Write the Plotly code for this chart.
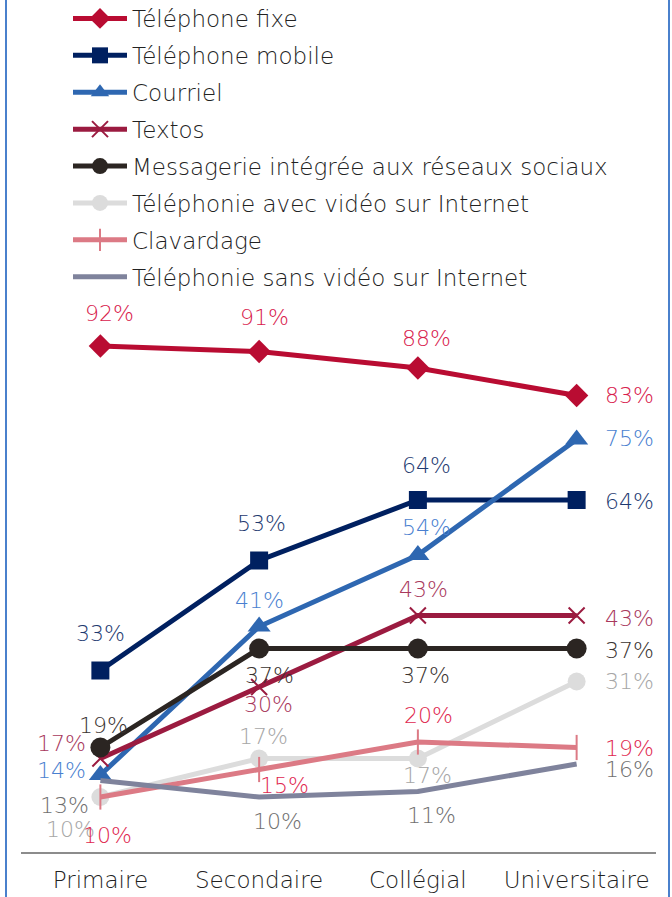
import plotly.graph_objects as go

categories = ["Primaire", "Secondaire", "Collégial", "Universitaire"]

series_names = [
    "Téléphone fixe",
    "Téléphone mobile",
    "Courriel",
    "Textos",
    "Messagerie intégrée aux réseaux sociaux",
    "Téléphonie avec vidéo sur Internet",
    "Clavardage",
    "Téléphonie sans vidéo sur Internet",
]

fixe = [92, 91, 88, 83]
mobile = [33, 53, 64, 64]
courriel = [14, 41, 54, 75]
textos = [17, 30, 43, 43]
messagerie = [19, 37, 37, 37]
avec_video = [10, 17, 17, 31]
clavardage = [10, 15, 20, 19]
sans_video = [13, 10, 11, 16]

values = [fixe, mobile, courriel, textos, messagerie, avec_video, clavardage, sans_video]

line_colors = ["#B90C32", "#002060", "#2E67B1", "#9B1B40", "#2B2522", "#DCDCDC", "#DC7A85", "#7F839C"]
label_colors = ["#D8204C", "#1E3A70", "#4A7FD0", "#A8385C", "#3A3330", "#A6A6A6", "#E0284F", "#6F6F6F"]
symbols = ["diamond", "square", "triangle-up", "x-thin-open", "circle", "circle", None, None]
msizes = [18, 18, 20, 16, 20, 18, 18, 0]

# label offsets (dx, dy in screen px from point); "R" = placed right of point
offsets = [
    [(9, -33), (5, -34), (9, -30), "R0"],
    [(0, -37), (2, -37), (9, -35), "R1"],
    [("L", -5), (0, -26), (9, -28), "R-1"],
    [("L", -15), (9, 17), (6, -26), "R3"],
    [(3, -22), (10, 27), (8, 27), "R2"],
    [(-30, 32), (4, -22), (10, 17), "R0"],
    [(7, 38), (25, 16), (11, -27), "R1"],
    [(-36, 25), (18, 24), (14, 24), "R5"],
]

FONT = "DejaVu Sans"
W, H = 672, 897
L, R, T, B = 21, 16, 0, 45
pw = W - L - R
ph = H - T - B
PX_PER_PCT = 5.5
ymax = ph / PX_PER_PCT

fig = go.Figure()
for i, name in enumerate(series_names):
    mk = dict(color=line_colors[i], size=msizes[i])
    if symbols[i] is None:
        if i == 6:
            mk = dict(symbol="line-ns-open", size=18, color=line_colors[i],
                      line=dict(color=line_colors[i], width=2))
            mode = "lines+markers"
        else:
            mode = "lines"
    else:
        mk["symbol"] = symbols[i]
        if symbols[i] == "x-thin-open":
            mk["line"] = dict(color=line_colors[i], width=2)
        mode = "lines+markers"
    fig.add_trace(go.Scatter(
        x=categories, y=values[i], name=name, mode=mode,
        line=dict(color=line_colors[i], width=5),
        marker=mk, legendgroup=name, cliponaxis=False,
    ))

lab_font = lambda c: dict(family=FONT, size=22, color=c, weight=300)

annotations = []
for i, vals in enumerate(values):
    for j, v in enumerate(vals):
        off = offsets[i][j]
        txt = f"{v}%"
        if isinstance(off, str):
            dy = int(off[1:])
            annotations.append(dict(x=categories[j], y=v, text=txt, showarrow=False,
                                    xanchor="left", yanchor="middle", xshift=26, yshift=-dy,
                                    font=lab_font(label_colors[i])))
        elif off[0] == "L":
            annotations.append(dict(x=categories[j], y=v, text=txt, showarrow=False,
                                    xanchor="right", yanchor="middle", xshift=-12, yshift=-off[1],
                                    font=lab_font(label_colors[i])))
        else:
            annotations.append(dict(x=categories[j], y=v, text=txt, showarrow=False,
                                    xanchor="center", yanchor="middle", xshift=off[0], yshift=-off[1],
                                    font=lab_font(label_colors[i])))

# page pixel -> paper coordinates
def px_x(p):
    return (p - L) / pw

def px_y(p):
    return (H - B - p) / ph

shapes = [
    dict(type="line", xref="paper", yref="paper", x0=px_x(6), x1=px_x(6), y0=px_y(900), y1=px_y(-5),
         line=dict(color="#4A80CC", width=2)),
    dict(type="line", xref="paper", yref="paper", x0=px_x(669), x1=px_x(669), y0=px_y(900), y1=px_y(-5),
         line=dict(color="#4A80CC", width=2)),
]

fig.update_layout(
    width=W, height=H,
    margin=dict(l=L, r=R, t=T, b=B, pad=0, autoexpand=False),
    paper_bgcolor="white", plot_bgcolor="white",
    font=dict(family=FONT, size=23, color="#222222", weight=300),
    showlegend=True,
    legend=dict(x=px_x(68), y=px_y(-3), xanchor="left", yanchor="top",
                traceorder="grouped", tracegroupgap=4, itemwidth=54,
                font=dict(family=FONT, size=23, color="#222222", weight=300),
                bgcolor="rgba(0,0,0,0)"),
    xaxis=dict(type="category", showgrid=False, zeroline=False, showline=True,
               linecolor="#8C8C8C", linewidth=1.5, ticks="", range=[-0.5, 3.5],
               automargin=False, ticklabelstandoff=7,
               tickfont=dict(family=FONT, size=23, color="#222222", weight=300)),
    yaxis=dict(range=[0, ymax], visible=False, showgrid=False, zeroline=False, automargin=False),
    annotations=annotations,
    shapes=shapes,
)

fig.write_html("out.html", config={"displayModeBar": False},
               post_script="document.body.style.margin='0';document.body.style.overflow='hidden';")
